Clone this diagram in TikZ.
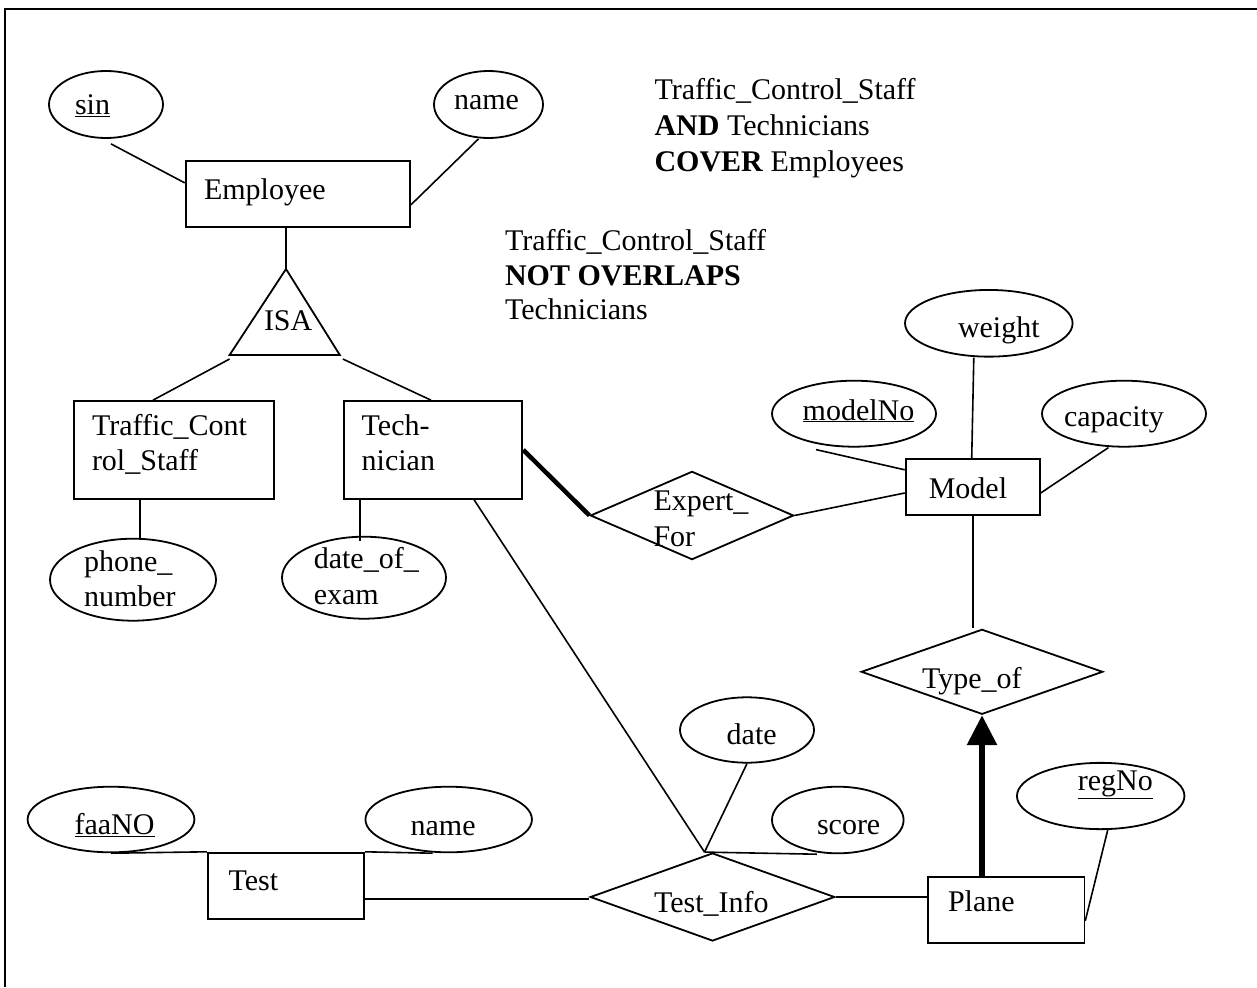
\documentclass[tikz,border=0pt]{standalone}
\usepackage{fontspec}
\setmainfont{Liberation Serif}
\usetikzlibrary{shapes.geometric,arrows.meta}
\tikzset{
  lbl/.style={anchor=base west, inner sep=0pt, outer sep=0pt, font=\fontsize{30}{36}\selectfont},
  attr/.style={draw, ellipse, line width=1.8pt, inner sep=0pt},
  ent/.style={draw, rectangle, line width=1.8pt, inner sep=0pt},
  rel/.style={draw, diamond, line width=1.8pt, inner sep=0pt},
  conn/.style={line width=1.6pt},
  heavy/.style={line width=4.5pt},
  frameline/.style={line width=2.5pt},
}
\begin{document}
\begin{tikzpicture}[x=1pt,y=-1pt]
\useasboundingbox[fill=white] (0,0) rectangle (1257,987);
% frame (top and left edges)
\coordinate (fr1) at (5,9);
\coordinate (fr2) at (1257,9);
\coordinate (fr3) at (5,987);
\draw[frameline] (fr2) -- (fr1) -- (fr3);

% ---------- shapes ----------
\node[attr, minimum width=114pt, minimum height=67pt] (sin) at (106,104.5) {};
\node[attr, minimum width=109pt, minimum height=67pt] (ename) at (488.5,104.5) {};
\node[ent, minimum width=224.4pt, minimum height=66.3pt] (emp) at (297.8,193.9) {};
\coordinate (isaT) at (286,269);
\coordinate (isaL) at (229.6,355);
\coordinate (isaR) at (339.8,355);
\draw[line width=1.8pt, line join=miter] (isaT) -- (isaL) -- (isaR) -- cycle;
\node[ent, minimum width=200pt, minimum height=97.7pt] (tcs) at (174,449.9) {};
\node[ent, minimum width=178.7pt, minimum height=97.7pt] (tech) at (433,449.9) {};
\node[attr, minimum width=166pt, minimum height=82pt] (phone) at (133,579.7) {};
\node[attr, minimum width=164pt, minimum height=82pt] (doe) at (364,577.7) {};
\node[rel, minimum width=203.3pt, minimum height=88.3pt] (expert) at (692,515.5) {};
\node[ent, minimum width=134.2pt, minimum height=56pt] (model) at (972.7,487) {};
\node[attr, minimum width=164pt, minimum height=66pt] (modelno) at (854,413.7) {};
\node[attr, minimum width=167.6pt, minimum height=66.7pt] (weight) at (988.8,323.3) {};
\node[attr, minimum width=164pt, minimum height=66pt] (capacity) at (1124,413.7) {};
\node[rel, minimum width=241.6pt, minimum height=85pt] (typeof) at (982,671.8) {};
\node[ent, minimum width=156.4pt, minimum height=66pt] (plane) at (1006.2,909.7) {};
\node[attr, minimum width=167.5pt, minimum height=66.3pt] (regno) at (1100.7,796) {};
\node[rel, minimum width=244.5pt, minimum height=88pt] (testinfo) at (712.5,897) {};
\node[attr, minimum width=134pt, minimum height=65.4pt] (date) at (747,730) {};
\node[attr, minimum width=131.6pt, minimum height=66.6pt] (score) at (837.8,820) {};
\node[ent, minimum width=156.5pt, minimum height=66pt] (test) at (286,885.7) {};
\node[attr, minimum width=166.8pt, minimum height=65.6pt] (faano) at (111,819.5) {};
\node[attr, minimum width=166.5pt, minimum height=65.6pt] (tname) at (448.7,819.5) {};

% ---------- labels ----------
\node[lbl] (t-sin) at (75,115) {\underline{sin}};
\node[lbl] (t-ename) at (454,110) {name};
\node[lbl] (t-emp) at (204,199) {Employee};
\node[lbl] (t-isa) at (264,330) {ISA};
\node[lbl] (t-tcs1) at (92,435) {Traffic\_Cont};
\node[lbl] (t-tcs2) at (92,470) {rol\_Staff};
\node[lbl] (t-tech1) at (361.7,435) {Tech-};
\node[lbl] (t-tech2) at (361.7,470) {nician};
\node[lbl] (t-ph1) at (84,571.7) {phone\_};
\node[lbl] (t-ph2) at (84,606.7) {number};
\node[lbl] (t-doe1) at (313.8,568) {date\_of\_};
\node[lbl] (t-doe2) at (313.8,604) {exam};
\node[lbl] (t-ex1) at (653.5,510.7) {Expert\_};
\node[lbl] (t-ex2) at (653.5,546.7) {For};
\node[lbl] (t-model) at (928.8,498.3) {Model};
\node[lbl] (t-modelno) at (802.7,420) {\underline{modelNo}};
\node[lbl] (t-weight) at (958,337.3) {weight};
\node[lbl] (t-cap) at (1064,426.7) {capacity};
\node[lbl] (t-typeof) at (922,688) {Type\_of};
\node[lbl] (t-date) at (726.7,744.3) {date};
\node[lbl] (t-score) at (817,834) {score};
\node[lbl] (t-regno) at (1077.8,790) {\underline{regNo}};
\node[lbl] (t-ti) at (654,912.3) {Test\_Info};
\node[lbl] (t-plane) at (948,911.7) {Plane};
\node[lbl] (t-test) at (228.5,890) {Test};
\node[lbl] (t-faa) at (74.6,834.3) {\underline{faaNO}};
\node[lbl] (t-tname) at (410.6,835) {name};
\node[lbl] (n1a) at (654.5,100) {Traffic\_Control\_Staff};
\node[lbl] (n1b) at (654.5,135.5) {\textbf{AND} Technicians};
\node[lbl] (n1c) at (654.5,171.5) {\textbf{COVER} Employees};
\node[lbl] (n2a) at (505,250) {Traffic\_Control\_Staff};
\node[lbl] (n2b) at (505,285.5) {\textbf{NOT OVERLAPS}};
\node[lbl] (n2c) at (505,319) {Technicians};

% ---------- connectors ----------
\draw[conn] ([shift={(5,5)}]sin.south) -- ([yshift=-23pt]emp.north west);
\draw[conn] ([xshift=-10pt]ename.south) -- ([yshift=-45pt]emp.north east);
\draw[conn] (isaT) -- (isaT |- emp.south);
\draw[conn] ([yshift=-4pt]isaL) -- ([xshift=-21pt]tcs.north);
\draw[conn] ([shift={(3,4)}]isaR) -- ([xshift=-2pt]tech.north);
\coordinate (c1) at ([xshift=7pt]phone.north);
\draw[conn] (c1) -- (c1 |- tcs.south);
\coordinate (c2) at ([shift={(-4,5)}]doe.north);
\draw[conn] (c2) -- (c2 |- tech.south);
\draw[heavy] (tech.east) -- (expert.west);
\draw[conn] (expert.east) -- ([yshift=-6pt]model.west);
\draw[conn] ([shift={(-38,2)}]modelno.south) -- ([yshift=-11.7pt]model.north west);
\draw[conn] ([xshift=-15pt]weight.south) -- ([xshift=-1pt]model.north);
\draw[conn] ([xshift=-15.6pt]capacity.south) -- ([yshift=-6pt]model.east);
\draw[conn] (model.south) -- (model.south |- typeof.north);
\draw[conn] ([xshift=41pt]tech.south) -- ([xshift=-8pt]testinfo.north);
\draw[conn] (date.south) -- ([xshift=-8pt]testinfo.north);
\draw[conn] ([xshift=-8pt]testinfo.north) -- ([xshift=-21pt]score.south);
\coordinate (c3) at ([yshift=-13pt]test.east);
\draw[conn] (c3) -- (c3 -| testinfo.west);
\draw[conn] (testinfo.east) -- (testinfo.east -| plane.west);
\draw[line width=6pt, -{Triangle[length=30pt,width=29pt]}] (typeof.south |- plane.north) -- (typeof.south);
\draw[conn] ([xshift=7pt]regno.south) -- ([yshift=-11pt]plane.east);
\draw[conn] (faano.south) -- (test.north west);
\draw[conn] (test.north east) -- ([xshift=-16pt]tname.south);
\end{tikzpicture}
\end{document}
